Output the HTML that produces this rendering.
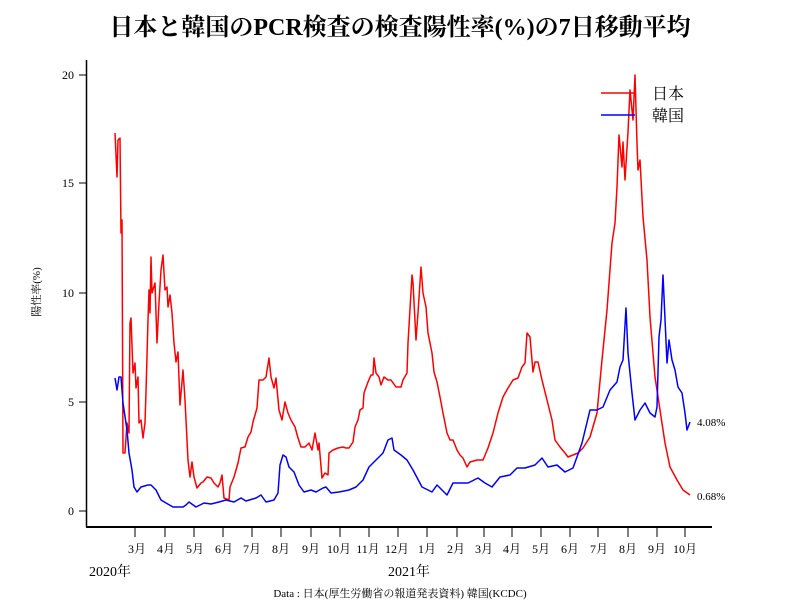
<!DOCTYPE html>
<html><head><meta charset="utf-8"><style>
body{margin:0;background:#fff;}
svg{display:block;}
text{font-family:"Liberation Serif","Noto Serif CJK SC","Noto Sans CJK JP",serif;fill:#000;}
</style></head><body>
<svg width="800" height="600" viewBox="0 0 800 600" xmlns="http://www.w3.org/2000/svg">
<text x="400" y="35" text-anchor="middle" font-size="24" font-weight="bold">日本と韓国のPCR検査の検査陽性率(%)の7日移動平均</text>
<line x1="86.5" y1="60" x2="86.5" y2="527" stroke="#000" stroke-width="1.5"/>
<line x1="86" y1="527" x2="712" y2="527" stroke="#000" stroke-width="2"/>
<g stroke="#000" stroke-width="1">
<line x1="79" y1="75" x2="86" y2="75"/><line x1="79" y1="183" x2="86" y2="183"/><line x1="79" y1="293" x2="86" y2="293"/><line x1="79" y1="402" x2="86" y2="402"/><line x1="79" y1="511" x2="86" y2="511"/>
</g>
<g font-size="12" text-anchor="end">
<text x="74" y="79">20</text><text x="74" y="187">15</text><text x="74" y="297">10</text><text x="74" y="406">5</text><text x="74" y="515">0</text>
</g>
<text transform="translate(40,292) rotate(-90)" font-size="11" text-anchor="middle">陽性率(%)</text>
<g stroke="#000" stroke-width="1">
<line x1="135" y1="528" x2="135" y2="537"/><line x1="165" y1="528" x2="165" y2="537"/><line x1="194" y1="528" x2="194" y2="537"/><line x1="223" y1="528" x2="223" y2="537"/><line x1="252" y1="528" x2="252" y2="537"/><line x1="281" y1="528" x2="281" y2="537"/><line x1="311" y1="528" x2="311" y2="537"/><line x1="340" y1="528" x2="340" y2="537"/><line x1="369" y1="528" x2="369" y2="537"/><line x1="398" y1="528" x2="398" y2="537"/><line x1="427" y1="528" x2="427" y2="537"/><line x1="457" y1="528" x2="457" y2="537"/><line x1="484" y1="528" x2="484" y2="537"/><line x1="512" y1="528" x2="512" y2="537"/><line x1="541" y1="528" x2="541" y2="537"/><line x1="570" y1="528" x2="570" y2="537"/><line x1="598" y1="528" x2="598" y2="537"/><line x1="628" y1="528" x2="628" y2="537"/><line x1="657" y1="528" x2="657" y2="537"/><line x1="685" y1="528" x2="685" y2="537"/>
</g>
<g font-size="12" text-anchor="middle">
<text x="137" y="553">3月</text><text x="166" y="553">4月</text><text x="195" y="553">5月</text><text x="224" y="553">6月</text><text x="252" y="553">7月</text><text x="281" y="553">8月</text><text x="311" y="553">9月</text><text x="339" y="553">10月</text><text x="368" y="553">11月</text><text x="397" y="553">12月</text><text x="427" y="553">1月</text><text x="456" y="553">2月</text><text x="484" y="553">3月</text><text x="512" y="553">4月</text><text x="541" y="553">5月</text><text x="570" y="553">6月</text><text x="599" y="553">7月</text><text x="628" y="553">8月</text><text x="657" y="553">9月</text><text x="685" y="553">10月</text>
</g>
<text x="110" y="576" font-size="14" text-anchor="middle">2020年</text>
<text x="409" y="576" font-size="14" text-anchor="middle">2021年</text>
<text x="400" y="597" font-size="11" text-anchor="middle">Data : 日本(厚生労働省の報道発表資料) 韓国(KCDC)</text>
<polyline fill="none" stroke="#f00" stroke-width="1.5" stroke-linejoin="round" points="115,133 117,177 118,140 120,138 121,233 122,220 123,453 125,453 127,423 129,433 130,323 131,318 133,373 135,363 136,388 138,377 139,423 141,420 143,438 145,423 146,392 148,320 149,290 150,313 151,257 152,293 155,283 157,343 159,303 161,270 163,255 165,290 167,287 168,307 170,295 172,313 174,343 176,362 178,352 180,405 183,370 185,400 188,460 190,477 192,462 194,477 197,488 201,483 203,482 207,477 211,478 214,483 218,487 220,483 222,475 224,498 229,500 230,487 234,477 238,463 241,448 245,447 248,437 251,432 253,422 257,408 259,380 263,380 266,377 269,358 271,377 274,388 276,378 279,410 282,420 285,402 288,413 291,420 295,427 298,438 301,447 305,447 309,443 312,450 315,433 318,450 319,443 322,478 325,473 328,475 329,453 333,450 338,448 343,447 346,448 349,448 353,442 355,427 358,420 360,410 363,408 364,393 368,382 371,375 373,375 374,358 376,373 379,377 381,385 384,377 388,380 391,380 396,387 401,387 403,380 407,373 408,343 412,275 413,283 416,340 418,313 421,267 423,293 426,307 428,333 432,353 434,372 437,382 440,397 443,413 447,433 450,440 453,440 457,450 460,455 463,458 467,467 470,462 477,460 483,460 488,448 493,433 498,413 503,397 508,388 513,380 518,378 522,367 525,363 527,333 530,337 533,372 535,362 538,362 542,380 547,400 552,420 555,440 560,447 565,453 568,457 573,455 578,453 583,448 590,437 597,413 602,360 607,310 612,243 615,223 617,187 619,135 622,167 623,142 625,180 628,132 630,90 632,110 633,120 635,75 637,143 638,170 640,160 643,217 647,260 650,317 655,377 660,410 665,443 670,467 677,480 683,490 690,495"/>
<polyline fill="none" stroke="#00f" stroke-width="1.5" stroke-linejoin="round" points="115,378 117,390 119,377 121,377 123,403 127,430 129,453 132,470 134,487 137,492 141,487 148,485 151,485 156,490 161,500 166,503 173,507 183,507 186,505 189,502 196,507 204,503 211,504 219,502 226,500 234,502 241,498 246,501 256,498 261,495 266,502 274,500 278,493 280,465 283,455 286,457 289,467 294,472 299,485 304,492 311,490 316,492 323,488 326,487 331,493 339,492 349,490 356,487 363,480 369,467 376,460 383,453 388,440 392,438 394,450 401,455 407,460 413,470 422,487 432,492 437,485 442,490 447,495 453,483 462,483 468,483 478,478 485,483 492,487 500,477 510,475 517,468 525,468 535,465 542,458 548,467 557,465 565,472 573,468 582,443 590,410 597,410 603,407 610,390 617,382 620,367 623,360 626,308 628,353 632,393 635,420 640,410 645,403 650,413 655,417 657,407 659,337 661,320 663,275 667,363 669,340 672,360 675,370 678,387 682,393 685,413 687,430 690,422"/>
<line x1="601" y1="93" x2="635" y2="93" stroke="#f00" stroke-width="1.5"/>
<line x1="601" y1="115" x2="635" y2="115" stroke="#00f" stroke-width="1.5"/>
<text x="652" y="99" font-size="16">日本</text>
<text x="652" y="121" font-size="16">韓国</text>
<text x="697" y="426" font-size="11">4.08%</text>
<text x="697" y="500" font-size="11">0.68%</text>
</svg>
</body></html>
